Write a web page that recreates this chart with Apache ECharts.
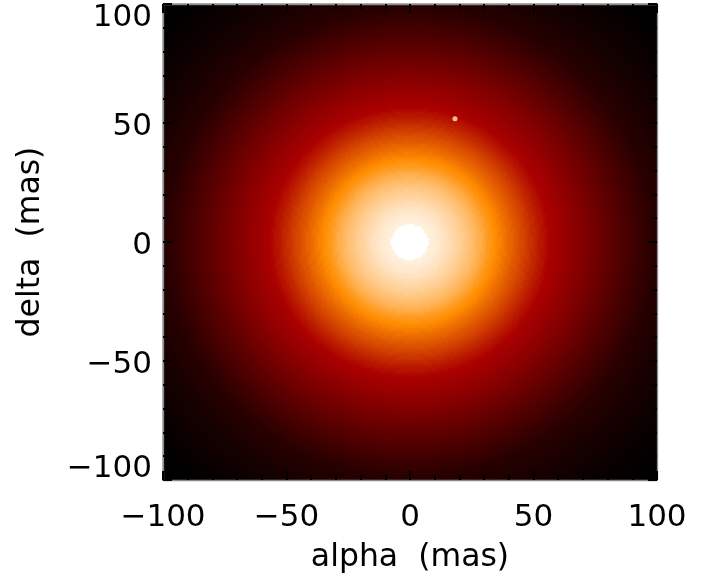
<!DOCTYPE html>
<html><head><meta charset="utf-8">
<style>html,body{margin:0;padding:0;background:#fff}#c{width:712px;height:578px}</style>
<script src="https://cdn.jsdelivr.net/npm/echarts@6/dist/echarts.min.js"></script>
</head><body><div id="c"></div>
<script>
// Colour table: one colour per 15 intensity units, 0..255
const palette = ['#000000','#150000','#2a0000','#400000','#550000','#6a0000','#800000','#950000','#aa0000','#bf2300','#d54600','#ea6900','#ff8c00','#ffa333','#ffba66','#ffd199','#ffe8cc','#ffffff'];
// Intensity at each whole radius in mas (index = radius)
const intensityByRadius = [255,255,255,255,255,255,255,255,245,244,243,242,240,239,237,236,233,231,229,227,225,223,220,218,215,213,210,207,204,201,197,193,189,186,183,180,177,174,171,168,165,163,160,157,155,152,149,147,144,141,138,136,133,130,128,125,122,120,118,116,114,112,110,108,105,103,101,99,97,95,92,90,88,86,83,81,79,77,74,72,70,67,65,63,61,58,56,54,51,49,47,45,43,41,39,37,35,33,31,29,28,27,26,25,24,23,22,21,20,19,18,17,16,15,15,14,13,12,12,11,10,9,9,8,7,7,6,5,5,4,4,3,2,2,1,1,0,0,0,0,0,0];
const columnCount = 247, rowCount = 238;
const columns = Array.from({length:columnCount},(_,k)=>(k+0.5)*200/columnCount-100);
const rows = Array.from({length:rowCount},(_,k)=>(k+0.5)*200/rowCount-100);
const spot = [[18.2,51.8]];
const xTickLabels = {'-100':'\u2212100','-50':'\u221250','0':'0','50':'50','100':'100'};
const yTickLabels = {'-100':'{low|\u2212100}','-50':'{mid|\u221250}','0':'{mid|0}','50':'{mid|50}','100':'{high|100}'};
const cells = [];
columns.forEach((a,i)=>rows.forEach((d,j)=>{
  cells.push([i,j,intensityByRadius[Math.round(Math.hypot(a,d))]]);
}));
const font = 'DejaVu Sans';
const frame = {show:true,onZero:false,lineStyle:{color:'#8a8a8a',width:1.3}};
const ticks = {show:true,inside:true,length:9,lineStyle:{color:'#000',width:2}};
const minor = {show:true,splitNumber:5,length:5,lineStyle:{color:'#000',width:2}};
const text = {color:'#000',fontFamily:font,fontSize:31};
const base = {type:'value',min:-100,max:100,interval:50,z:5,splitLine:{show:false},axisLine:frame,axisTick:ticks,minorTick:minor};
const nameStyle = {color:'#000',fontFamily:font,fontSize:31.5};
const chart = echarts.init(document.getElementById('c'),null,{renderer:'canvas'});
chart.setOption({
  animation:false,
  grid:{left:163,top:4,width:494,height:476,outerBoundsMode:'none'},
  visualMap:{show:false,min:0,max:255,dimension:2,seriesIndex:0,inRange:{color:palette}},
  xAxis:[
    {type:'category',data:columns,show:false},
    {...base,position:'bottom',axisLabel:{show:true,...text,margin:22,formatter:v=>xTickLabels[v]},name:'alpha  (mas)',nameLocation:'middle',nameGap:62,nameTextStyle:nameStyle},
    {...base,position:'top',axisLabel:{show:false}}
  ],
  yAxis:[
    {type:'category',data:rows,show:false},
    {...base,position:'left',axisLabel:{show:true,...text,margin:11,formatter:v=>yTickLabels[v],rich:{
      low:{...text,padding:[0,0,22,0]},mid:{...text,padding:[8,0,0,0]},high:{...text,padding:[28,0,0,0]}}},name:'delta  (mas)',nameLocation:'middle',nameGap:116,nameRotate:90,nameTextStyle:nameStyle},
    {...base,position:'right',axisLabel:{show:false}}
  ],
  series:[
    {type:'heatmap',xAxisIndex:0,yAxisIndex:0,data:cells,progressive:0,emphasis:{disabled:true},silent:true,z:1},
    {type:'scatter',xAxisIndex:1,yAxisIndex:1,data:spot,symbolSize:5,itemStyle:{color:'#ffefc0'},silent:true,z:3}
  ]
});
</script></body></html>
